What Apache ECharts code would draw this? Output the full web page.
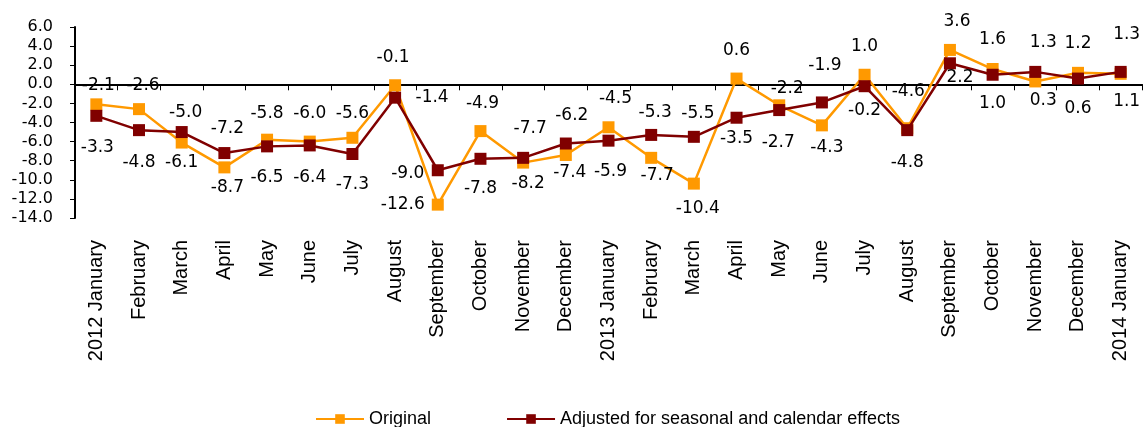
<!DOCTYPE html>
<html>
<head>
<meta charset="utf-8">
<script src="https://cdn.jsdelivr.net/npm/echarts@6/dist/echarts.min.js"></script>
<style>
  html, body { margin: 0; padding: 0; background: #ffffff; }
  #chart { width: 1144px; height: 427px; }
</style>
</head>
<body>
<div id="chart"></div>
<script>
// ---- data ----
var categories = [
  '2012 January', 'February', 'March', 'April', 'May', 'June', 'July', 'August',
  'September', 'October', 'November', 'December',
  '2013 January', 'February', 'March', 'April', 'May', 'June', 'July', 'August',
  'September', 'October', 'November', 'December',
  '2014 January'
];
var originalValues = [
  -2.1, -2.6, -6.1, -8.7, -5.8, -6.0, -5.6, -0.1, -12.6, -4.9, -8.2, -7.4,
  -4.5, -7.7, -10.4, 0.6, -2.2, -4.3, 1.0, -4.6, 3.6, 1.6, 0.3, 1.2,
  1.1
];
var adjustedValues = [
  -3.3, -4.8, -5.0, -7.2, -6.5, -6.4, -7.3, -1.4, -9.0, -7.8, -7.7, -6.2,
  -5.9, -5.3, -5.5, -3.5, -2.7, -1.9, -0.2, -4.8, 2.2, 1.0, 1.3, 0.6,
  1.3
];
var seriesNames = ['Original', 'Adjusted for seasonal and calendar effects'];
var yTicks = { min: -14, max: 6, interval: 2 };

// ---- label placement (pixel offsets of each value label from its marker) ----
var originalLabelOffset = [
  [2, -19], [4, -24], [0, 20], [3, 20], [0, -26], [0, -28], [0, -24], [-2, -28],
  [-35, 0], [2, -28], [5, 21], [4, 18], [7, -29], [6, 18], [4, 25], [0, -28],
  [8, -17], [5, 22], [0, -28], [1, -37], [7, -28], [0, -29], [8, 19], [0, -29],
  [6, 28]
];
var adjustedLabelOffset = [
  [1, 32], [0, 32], [4, -19], [3, -24], [0, 31], [0, 32], [0, 31], [37, 0],
  [-30, 3], [0, 30], [7, -29], [6, -28], [2, 31], [4, -22], [4, -23], [0, 21],
  [-1, 32], [3, -37], [0, 24], [0, 32], [10, 14], [0, 29], [8, -29], [0, 30],
  [6, -37]
];

var ORANGE = '#FF9900';
var DARKRED = '#800000';
var NUM_FONT = 'DejaVu Sans';
var TXT_FONT = 'Liberation Sans, Arial, sans-serif';

function buildData(values, offsets) {
  return values.map(function (v, i) {
    return { value: v, label: { offset: offsets[i] } };
  });
}

var chart = echarts.init(document.getElementById('chart'), null, { renderer: 'canvas' });
chart.setOption({
  animation: false,
  backgroundColor: '#ffffff',
  grid: { left: 75, right: 2, top: 27, bottom: 209, containLabel: false },
  legend: {
    left: 315,
    top: 410,
    padding: 0,
    itemWidth: 48,
    itemHeight: 12,
    itemGap: 75,
    textStyle: { fontFamily: TXT_FONT, fontSize: 18, color: '#000' },
    data: seriesNames
  },
  xAxis: [
    {
      type: 'category',
      data: categories,
      position: 'bottom',
      boundaryGap: true,
      axisLine: { show: false, onZero: false },
      axisTick: { show: false },
      axisLabel: {
        rotate: 90,
        margin: 22,
        interval: 0,
        fontFamily: TXT_FONT,
        fontSize: 20,
        color: '#000'
      },
      splitLine: { show: false }
    },
    {
      type: 'category',
      data: categories,
      position: 'bottom',
      boundaryGap: true,
      axisLine: { show: true, onZero: true, lineStyle: { color: '#000', width: 2 } },
      axisTick: { show: true, inside: false, length: 6, interval: 0, lineStyle: { color: '#000', width: 1 } },
      axisLabel: { show: false },
      splitLine: { show: false }
    }
  ],
  yAxis: {
    type: 'value',
    min: yTicks.min,
    max: yTicks.max,
    interval: yTicks.interval,
    axisLine: { show: true, lineStyle: { color: '#000', width: 2 } },
    axisTick: { show: true, length: 5, lineStyle: { color: '#000', width: 1 } },
    splitLine: { show: false },
    axisLabel: {
      margin: 22,
      fontFamily: NUM_FONT,
      fontSize: 16,
      color: '#000',
      formatter: function (v) { return v.toFixed(1); }
    }
  },
  series: [
    {
      name: seriesNames[0],
      type: 'line',
      xAxisIndex: 0,
      data: buildData(originalValues, originalLabelOffset),
      symbol: 'rect',
      symbolSize: 12,
      color: ORANGE,
      lineStyle: { color: ORANGE, width: 2.5 },
      itemStyle: { color: ORANGE },
      label: {
        show: true,
        position: 'inside',
        fontFamily: NUM_FONT,
        fontSize: 17,
        color: '#000',
        formatter: function (p) { return p.value.toFixed(1); }
      },
      z: 2
    },
    {
      name: seriesNames[1],
      type: 'line',
      xAxisIndex: 0,
      data: buildData(adjustedValues, adjustedLabelOffset),
      symbol: 'rect',
      symbolSize: 12,
      color: DARKRED,
      lineStyle: { color: DARKRED, width: 2.5 },
      itemStyle: { color: DARKRED },
      label: {
        show: true,
        position: 'inside',
        fontFamily: NUM_FONT,
        fontSize: 17,
        color: '#000',
        formatter: function (p) { return p.value.toFixed(1); }
      },
      z: 3
    }
  ]
});
</script>
</body>
</html>
